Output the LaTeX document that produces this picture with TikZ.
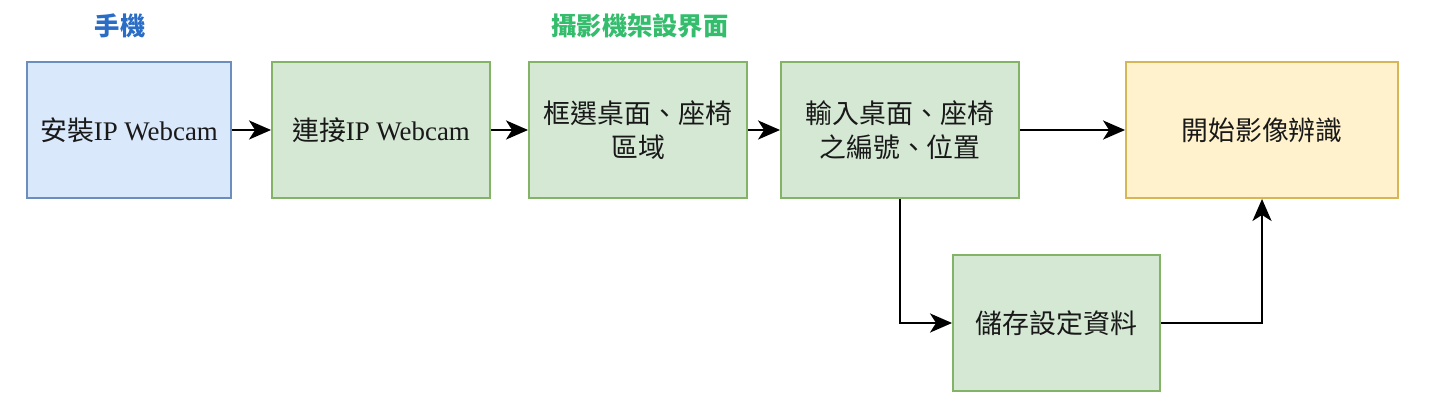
\documentclass[tikz,border=0pt]{standalone}
\usepackage{fontspec}
\setmainfont{Liberation Serif}
\newfontfamily\cjk{Noto Sans CJK TC}
\usetikzlibrary{arrows.meta}
\definecolor{bluefill}{HTML}{DAE8FC}
\definecolor{blueline}{HTML}{6C8EBF}
\definecolor{greenfill}{HTML}{D5E8D4}
\definecolor{greenline}{HTML}{82B366}
\definecolor{yellowfill}{HTML}{FFF2CC}
\definecolor{yellowline}{HTML}{D6B656}
\definecolor{titleblue}{HTML}{2A6DC6}
\definecolor{titlegreen}{HTML}{33BD6C}
\begin{document}
\begin{tikzpicture}[x=0.02cm,y=-0.02cm,
	box/.style={draw,rectangle,line width=1.1pt,minimum height=2.72cm,align=center,
		font=\fontsize{15.3}{19.3}\selectfont,text=black!90},
	stepblue/.style={box,fill=bluefill,draw=blueline},
	stepgreen/.style={box,fill=greenfill,draw=greenline},
	stepyellow/.style={box,fill=yellowfill,draw=yellowline},
	title/.style={font=\cjk\bfseries\fontsize{14.4}{17}\selectfont},
	arr/.style={-{Stealth[length=0.44cm,width=0.38cm,inset=0.12cm]},line width=1.5pt}]
	
	\useasboundingbox (0,0) rectangle (1435,411);
	
	\node[title,text=titleblue] (phone) at (120,26) {手機};
	\node[title,text=titlegreen] (ui) at (640,26) {攝影機架設界面};
	
	\node[stepblue,minimum width=4.08cm] (install) at (129,130) {{\cjk 安裝}IP Webcam};
	\node[stepgreen,minimum width=4.36cm] (connect) at (381,130) {{\cjk 連接}IP Webcam};
	\node[stepgreen,minimum width=4.36cm] (select) at (638,130) {\cjk 框選桌面、座椅\\ \cjk 區域};
	\node[stepgreen,minimum width=4.76cm] (input) at (900,130) {\cjk 輸入桌面、座椅\\ \cjk 之編號、位置};
	\node[stepyellow,minimum width=5.44cm] (start) at (1262,130) {\cjk 開始影像辨識};
	\node[stepgreen,minimum width=4.14cm] (save) at (1056.5,323) {\cjk 儲存設定資料};
	
	\draw[arr] (install) -- (connect);
	\draw[arr] (connect) -- (select);
	\draw[arr] (select) -- (input);
	\draw[arr] (input) -- (start);
	\draw[arr] (input.south) |- (save.west);
	\draw[arr] (save.east) -| (start.south);
	
\end{tikzpicture}
\end{document}
